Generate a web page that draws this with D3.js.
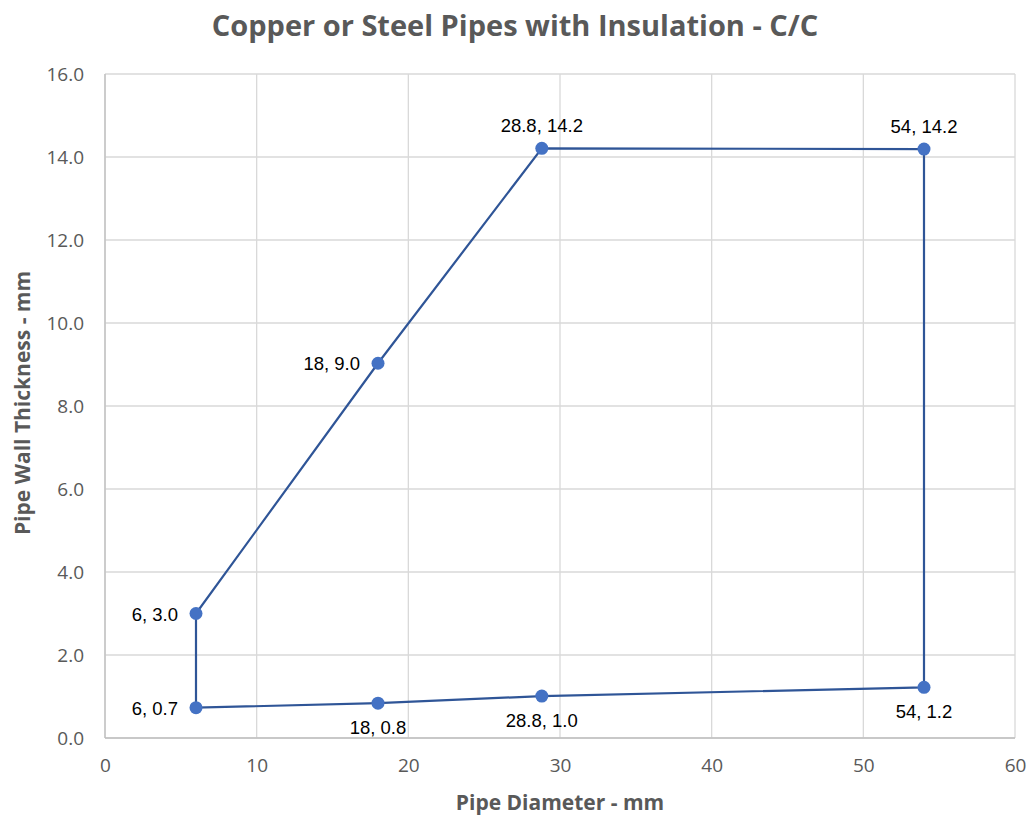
<!DOCTYPE html>
<html><head><meta charset="utf-8">
<script src="https://cdn.jsdelivr.net/npm/d3@7"></script>
<style>body{margin:0;background:#fff;} svg{display:block;}</style>
</head><body>
<svg id="c" width="1031" height="816"></svg>
<script>
const xValues = [6, 18, 28.8, 54, 54, 28.8, 18, 6, 6];
const yValues = [3.0, 9.03, 14.21, 14.19, 1.22, 1.01, 0.84, 0.73, 3.0];
const labelPos = ["left", "left", "top", "top", "bottom", "bottom", "bottom", "left"];
const xTicks = [0, 10, 20, 30, 40, 50, 60];
const yTicks = [0, 2, 4, 6, 8, 10, 12, 14, 16];
const title = "Copper or Steel Pipes with Insulation - C/C";
const xTitle = "Pipe Diameter - mm";
const yTitle = "Pipe Wall Thickness - mm";

const svg = d3.select("#c");
const m = {l: 105, r: 1015, t: 74, b: 738};
const x = d3.scaleLinear().domain([0, 60]).range([m.l, m.r]);
const y = d3.scaleLinear().domain([0, 16]).range([m.b, m.t]);
const grey = "#595959";

// gridlines
svg.append("g").selectAll("line").data(yTicks).join("line")
  .attr("x1", m.l).attr("x2", m.r).attr("y1", d => y(d)).attr("y2", d => y(d))
  .attr("stroke", "#D9D9D9").attr("stroke-width", 1.3);
svg.append("g").selectAll("line").data(xTicks).join("line")
  .attr("y1", m.t).attr("y2", m.b).attr("x1", d => x(d)).attr("x2", d => x(d))
  .attr("stroke", "#D9D9D9").attr("stroke-width", 1.3);
// axis lines
svg.append("line").attr("x1", m.l).attr("x2", m.r).attr("y1", m.b).attr("y2", m.b).attr("stroke", "#BFBFBF").attr("stroke-width", 1.3);
svg.append("line").attr("x1", m.l).attr("x2", m.l).attr("y1", m.t).attr("y2", m.b).attr("stroke", "#BFBFBF").attr("stroke-width", 1.3);

// axes via d3 axis (tick labels only)
const yAxis = svg.append("g").attr("transform", `translate(${m.l},0)`)
  .call(d3.axisLeft(y).tickValues(yTicks).tickFormat(d3.format(".1f")).tickSize(0).tickPadding(21));
const xAxis = svg.append("g").attr("transform", `translate(0,${m.b})`)
  .call(d3.axisBottom(x).tickValues(xTicks).tickFormat(d3.format("d")).tickSize(0).tickPadding(21));
[yAxis, xAxis].forEach(a => {
  a.select(".domain").remove();
  a.selectAll("text").attr("font-family", "'Open Sans', sans-serif").attr("font-size", 19).attr("fill", grey);
});

// title
svg.append("text").attr("x", 515).attr("y", 36).attr("text-anchor", "middle")
  .attr("font-family", "'Open Sans', sans-serif").attr("font-weight", "bold").attr("font-size", 29)
  .attr("fill", grey).text(title);
svg.append("text").attr("x", 560).attr("y", 810).attr("text-anchor", "middle")
  .attr("font-family", "'Open Sans', sans-serif").attr("font-weight", "bold").attr("font-size", 21)
  .attr("fill", grey).text(xTitle);
svg.append("text").attr("transform", "translate(30,403) rotate(-90)").attr("text-anchor", "middle")
  .attr("font-family", "'Open Sans', sans-serif").attr("font-weight", "bold").attr("font-size", 21)
  .attr("fill", grey).text(yTitle);

// line
const pts = xValues.map((v, i) => [v, yValues[i]]);
svg.append("path").datum(pts)
  .attr("d", d3.line().x(d => x(d[0])).y(d => y(d[1])))
  .attr("fill", "none").attr("stroke", "#2F5597").attr("stroke-width", 2.2);

// markers (first 8 unique points)
const uniq = pts.slice(0, 8);
svg.append("g").selectAll("circle").data(uniq).join("circle")
  .attr("cx", d => x(d[0])).attr("cy", d => y(d[1])).attr("r", 6.5)
  .attr("fill", "#4472C4");

// labels
const fmt = d3.format(".1f");
svg.append("g").selectAll("text").data(uniq).join("text")
  .attr("font-family", "'Liberation Sans', Arial, sans-serif").attr("font-size", 18.5).attr("fill", "#000")
  .attr("x", (d, i) => labelPos[i] === "left" ? x(d[0]) - 18 : x(d[0]))
  .attr("y", (d, i) => labelPos[i] === "top" ? y(d[1]) - 16 : labelPos[i] === "bottom" ? y(d[1]) + 31 : y(d[1]) + 7)
  .attr("text-anchor", (d, i) => labelPos[i] === "left" ? "end" : "middle")
  .text(d => `${d[0]}, ${fmt(d[1])}`);
</script>
</body></html>
